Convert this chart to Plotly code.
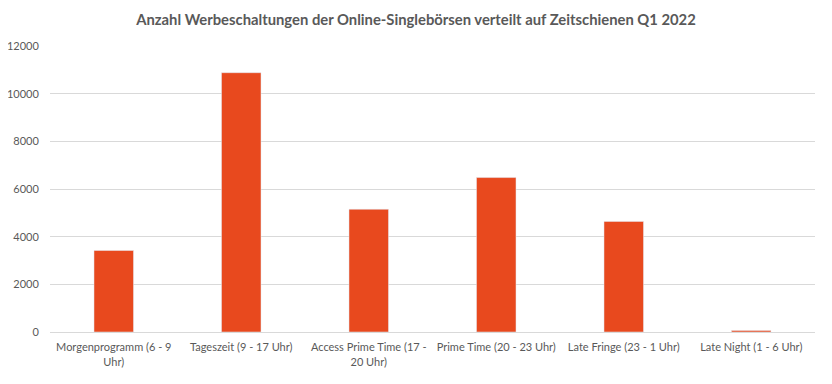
import plotly.graph_objects as go

categories = [
    "Morgenprogramm (6 - 9<br>Uhr)",
    "Tageszeit (9 - 17 Uhr)",
    "Access Prime Time (17 -<br>20 Uhr)",
    "Prime Time (20 - 23 Uhr)",
    "Late Fringe (23 - 1 Uhr)",
    "Late Night (1 - 6 Uhr)",
]
values = [3420, 10880, 5150, 6480, 4640, 60]
y_ticks = [0, 2000, 4000, 6000, 8000, 10000, 12000]
y_tick_labels = [str(v) for v in y_ticks]

fig = go.Figure(go.Bar(x=categories, y=values, marker_color="#E8491E", width=0.31))

fig.update_layout(
    width=816, height=368,
    margin=dict(l=42, r=9, t=38, b=44),
    paper_bgcolor="white", plot_bgcolor="white",
    font=dict(family="Lato, Open Sans, sans-serif", size=11, color="#595959"),
    title=dict(text="<b>Anzahl Werbeschaltungen der Online-Singlebörsen verteilt auf Zeitschienen Q1 2022</b>",
               x=0.5, xanchor="center", y=0.967, yanchor="middle",
               font=dict(size=14.8, color="#595959")),
    showlegend=False,
    bargap=0.69,
)
fig.update_yaxes(range=[0, 12000], tickvals=y_ticks, ticktext=y_tick_labels, automargin=False,
                 showgrid=True, gridcolor="#D9D9D9",
                 zeroline=False, showline=False, ticks="outside", ticklen=8, tickcolor="rgba(0,0,0,0)",
                 tickfont=dict(size=11, color="#595959"))
fig.update_xaxes(showline=True, linecolor="#D9D9D9", linewidth=1, ticks="", tickangle=0, automargin=False,
                 ticklabelstandoff=5,
                 tickfont=dict(size=11, color="#595959"))

fig.write_html("out.html")
